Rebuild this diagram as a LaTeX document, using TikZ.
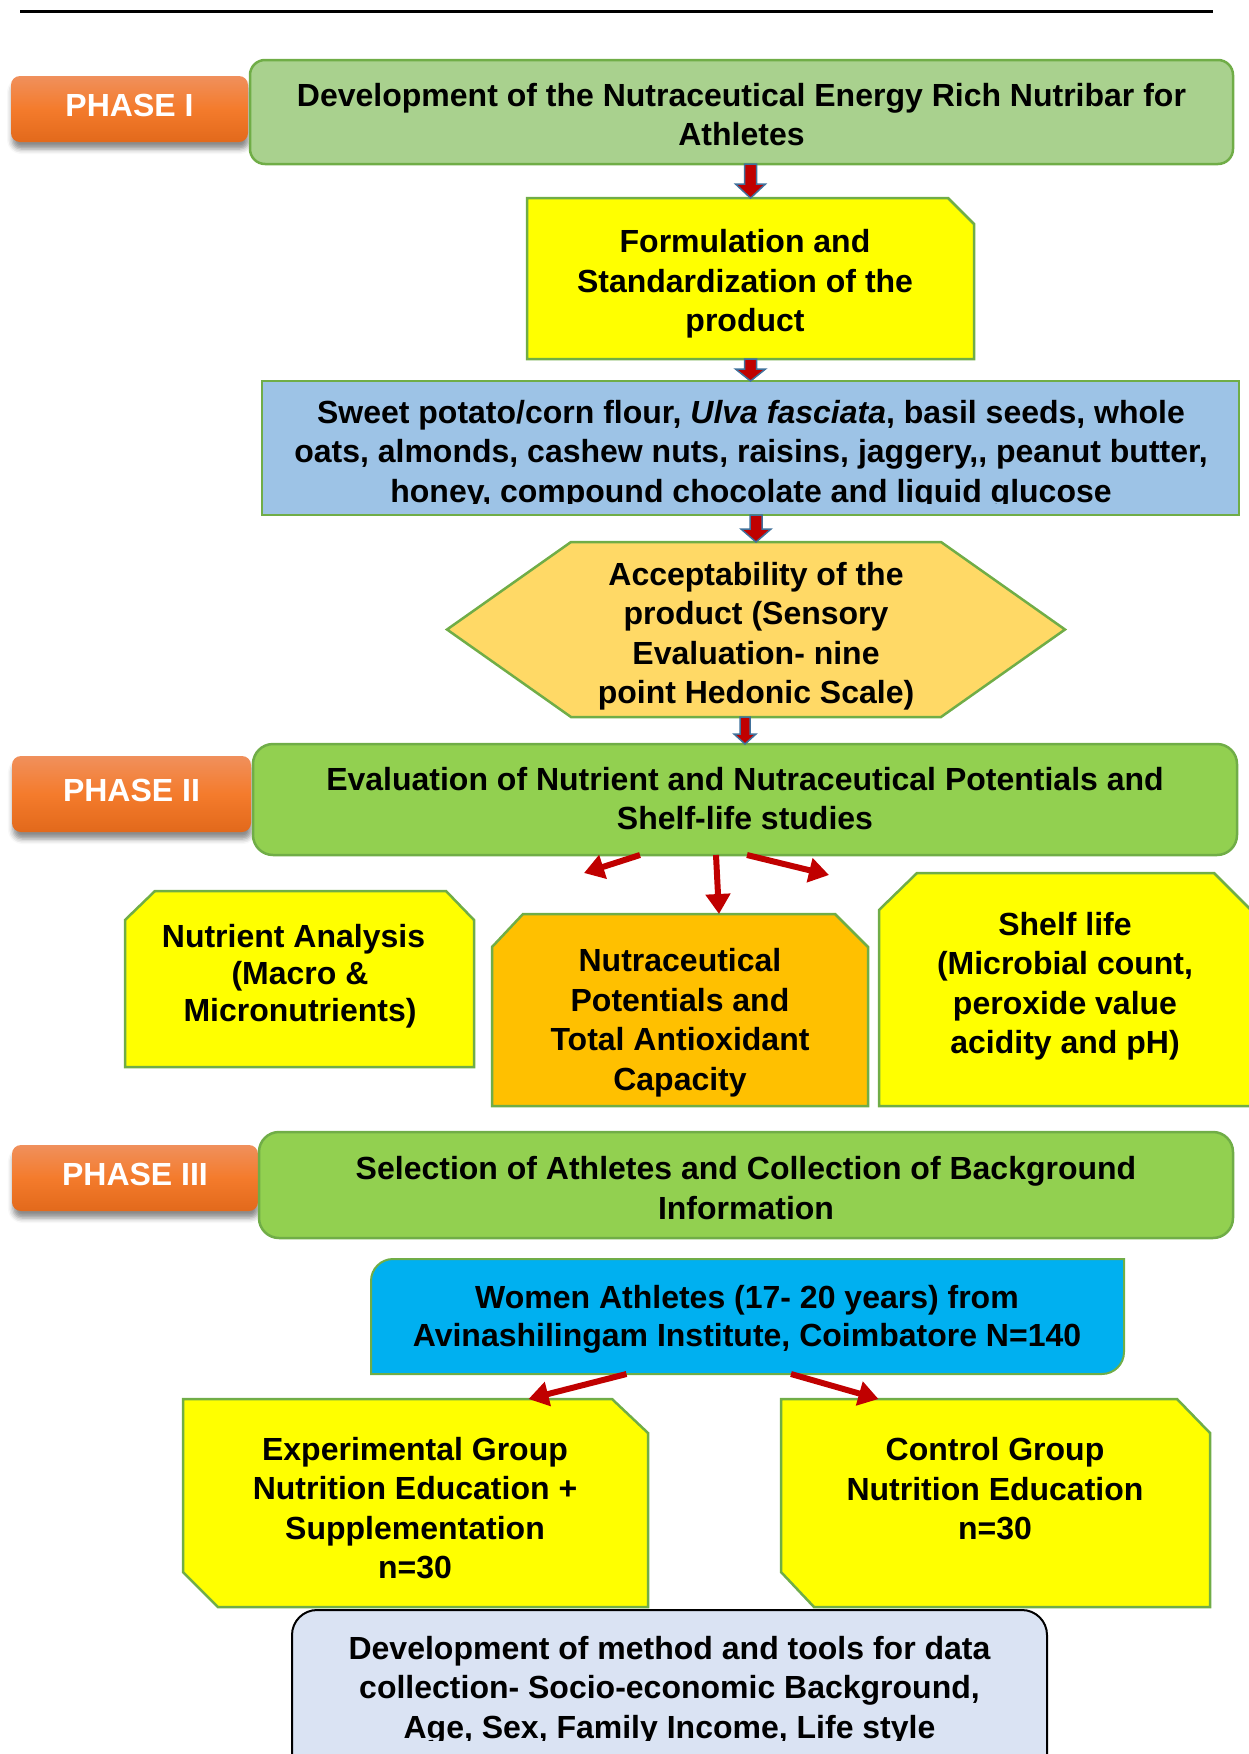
\documentclass[tikz,border=0pt]{standalone}
\usepackage{fontspec}
\setmainfont{Liberation Sans}
\usetikzlibrary{arrows.meta,calc,backgrounds,shadows.blur}

\definecolor{grnlight}{HTML}{A9D18E}
\definecolor{grn}{HTML}{92D050}
\definecolor{grnborder}{HTML}{70AD47}
\definecolor{yel}{HTML}{FFFF00}
\definecolor{orn}{HTML}{FFC000}
\definecolor{lblue}{HTML}{9DC3E6}
\definecolor{hexfill}{HTML}{FFD966}
\definecolor{cyanbox}{HTML}{00B0F0}
\definecolor{greyblue}{HTML}{DAE3F3}
\definecolor{arrred}{HTML}{C00000}
\definecolor{arrblue}{HTML}{41719C}
\definecolor{phtop}{HTML}{F0905C}
\definecolor{phmid}{HTML}{F47B2C}
\definecolor{phbot}{HTML}{E2691B}

\newcommand{\blkarrow}[5]{\path[blockarr] let \p1=(#1), \p2=(#2) in
  (\x1-#3,\y1) -- (\x1+#3,\y1) -- (\x1+#3,\y2+#5) -- (\x1+#4,\y2+#5) -- (\x1,\y2)
  -- (\x1-#4,\y2+#5) -- (\x1-#3,\y2+#5) -- cycle;}

\begin{document}
\begin{tikzpicture}[x=1pt,y=-1pt,
  nbase/.style={inner sep=0pt, outer sep=0pt},
  txt/.style={font=\fontsize{32}{39.5}\selectfont\bfseries, align=center, inner sep=0pt, text=black},
  txtb/.style={font=\fontsize{32}{37}\selectfont\bfseries, align=center, inner sep=0pt, text=black},
  txtc/.style={font=\fontsize{32}{38}\selectfont\bfseries, align=center, inner sep=0pt, text=black},
  greenbox/.style={nbase, fill=grn, draw=grnborder, line width=2.5pt, rounded corners=20pt},
  phase/.style={nbase, rounded corners=9pt, top color=phtop, bottom color=phbot, middle color=phmid,
     blur shadow={shadow xshift=1pt, shadow yshift=-7pt, shadow blur radius=5pt, shadow opacity=45},
     text=white, font=\fontsize{32}{38}\selectfont\bfseries, text depth=8pt},
  snipbox/.style={draw=grnborder, line width=2.5pt},
  blockarr/.style={fill=arrred, draw=arrblue, line width=1.5pt, line join=miter},
  redarr/.style={draw=arrred, line width=6pt, -{Triangle[length=20pt,width=24pt]}}
]
\useasboundingbox (0,0) rectangle (1249,1754);
\clip (0,0) rectangle (1249,1754);

% top rule
\draw[line width=3pt] (20,11) -- (1213,11);

% phase labels
\node[phase, minimum width=237pt, minimum height=66pt] (p1) at (129.5,109) {PHASE I};
\node[phase, minimum width=239pt, minimum height=76pt] (p2) at (131.5,794) {PHASE II};
\node[phase, minimum width=246pt, minimum height=66pt] (p3) at (135,1178) {PHASE III};

% boxes
\node[nbase, fill=grnlight, draw=grnborder, line width=2.5pt, rounded corners=15pt,
      minimum width=983pt, minimum height=104pt] (b1) at (741.5,112) {};
\node[nbase, minimum width=447pt, minimum height=161pt] (b2) at (750.5,278.5) {};
\node[nbase, fill=lblue, draw=grnborder, line width=2.5pt,
      minimum width=977pt, minimum height=134pt] (b3) at (750.5,448) {};
\node[nbase, minimum width=618pt, minimum height=175pt] (hex) at (756,629.5) {};
\node[greenbox, minimum width=984pt, minimum height=111pt] (b4) at (745,799.5) {};
\node[nbase, minimum width=349pt, minimum height=176pt] (b5) at (299.5,979) {};
\node[nbase, minimum width=376pt, minimum height=192pt] (b6) at (680,1010) {};
\node[nbase, minimum width=372pt, minimum height=233pt] (b7) at (1065,989.5) {};
\node[greenbox, minimum width=974pt, minimum height=106pt] (b8) at (746,1185) {};
\node[nbase, minimum width=753pt, minimum height=115pt] (b9) at (747.5,1316.5) {};
\node[nbase, minimum width=465pt, minimum height=208pt] (b10) at (415.5,1503) {};
\node[nbase, minimum width=429pt, minimum height=208pt] (b11) at (995.5,1503) {};
\node[nbase, fill=greyblue, draw=black, line width=2pt, rounded corners=25pt,
      minimum width=755pt, minimum height=190pt] (b12) at (669.5,1705) {};

% shaped outlines
\begin{pgfonlayer}{background}
\path[snipbox, fill=yel] (b2.south west) -- (b2.north west) -- ([xshift=-26pt]b2.north east)
   -- ([yshift=-26pt]b2.north east) -- (b2.south east) -- cycle;
\path[snipbox, fill=hexfill] (hex.west) -- ([xshift=124pt]hex.north west) -- ([xshift=-124pt]hex.north east)
   -- (hex.east) -- ([xshift=-124pt]hex.south east) -- ([xshift=124pt]hex.south west) -- cycle;
\path[snipbox, fill=yel] (b5.south west) -- ([yshift=-29pt]b5.north west) -- ([xshift=30pt]b5.north west)
   -- ([xshift=-28pt]b5.north east) -- ([yshift=-29pt]b5.north east) -- (b5.south east) -- cycle;
\path[snipbox, fill=orn] (b6.south west) -- ([yshift=-33pt]b6.north west) -- ([xshift=31pt]b6.north west)
   -- ([xshift=-33pt]b6.north east) -- ([yshift=-33pt]b6.north east) -- (b6.south east) -- cycle;
\path[snipbox, fill=yel] (b7.south west) -- ([yshift=-37pt]b7.north west) -- ([xshift=38pt]b7.north west)
   -- ([xshift=-37pt]b7.north east) -- ([yshift=-37pt]b7.north east) -- (b7.south east) -- cycle;
\path[snipbox, line width=2pt, fill=cyanbox] let \p1=(b9.north west), \p2=(b9.south east) in
   (\x1,\y2) -- (\x1,\y1-22pt) arc[start angle=180, end angle=90, radius=22pt]
   -- (\x2,\y1) -- (\x2,\y2+22pt) arc[start angle=0, end angle=-90, radius=22pt] -- cycle;
\path[snipbox, fill=yel] (b10.north west) -- ([xshift=-36pt]b10.north east) -- ([yshift=-34pt]b10.north east)
   -- (b10.south east) -- ([xshift=35pt]b10.south west) -- ([yshift=35pt]b10.south west) -- cycle;
\path[snipbox, fill=yel] (b11.north west) -- ([xshift=-33pt]b11.north east) -- ([yshift=-34pt]b11.north east)
   -- (b11.south east) -- ([xshift=33pt]b11.south west) -- ([yshift=35pt]b11.south west) -- cycle;
\end{pgfonlayer}

% texts
\node[txt] (t1) at (741.5,114.5) {Development of the Nutraceutical Energy Rich Nutribar for\\Athletes};
\node[txt] (t2) at (745,284) {Formulation and\\Standardization of the\\product};
\begin{scope}
\clip (262,381) rectangle (1239,503);
\node[txt] (t3) at (751,454.5) {Sweet potato/corn flour, \textit{Ulva fasciata}, basil seeds, whole\\oats, almonds, cashew nuts, raisins, jaggery,\kern0pt, peanut butter,\\honey, compound chocolate and liquid glucose};
\end{scope}
\node[txt] (t4) at (756,636) {Acceptability of the\\product (Sensory\\Evaluation- nine\\point Hedonic Scale)};
\node[txt] (t5) at (745,798.5) {Evaluation of Nutrient and Nutraceutical Potentials and\\Shelf-life studies};
\node[txtb] (t6) at (300,976.5) {Nutrient Analysis\hspace*{13pt}\\(Macro \&\\Micronutrients)};
\node[txt] (t7) at (680,1022.5) {Nutraceutical\\Potentials and\\Total Antioxidant\\Capacity};
\node[txt] (t8) at (1065,986) {Shelf life\\(Microbial count,\\peroxide value\\acidity and pH)};
\node[txt] (t9) at (746,1188) {Selection of Athletes and Collection of Background\\Information};
\node[txtc] (t10) at (747,1319.5) {Women Athletes (17- 20 years) from\\Avinashilingam Institute, Coimbatore N=140};
\node[txt] (t11) at (415,1508) {Experimental Group\\Nutrition Education +\\Supplementation\\n=30};
\node[txt] (t12) at (995,1489) {Control Group\\Nutrition Education\\n=30};
\begin{scope}
\clip (292,1610) rectangle (1047,1740);
\node[txt] (t13) at (669.5,1690.5) {Development of method and tools for data\\collection- Socio-economic Background,\\Age, Sex, Family Income, Life style};
\end{scope}

% block arrows
\blkarrow{b2.north |- b1.south}{b2.north}{6pt}{15pt}{14pt}
\blkarrow{b2.south}{b3.north}{6pt}{15pt}{12pt}
\blkarrow{hex.north |- b3.south}{hex.north}{6pt}{15pt}{13pt}
\blkarrow{b4.north |- hex.south}{b4.north}{5pt}{11pt}{10pt}

% red arrows
\coordinate (r1) at (584,873);
\coordinate (r3) at (829,875);
\draw[redarr] ([xshift=-105pt]b4.south) -- (r1);
\draw[redarr] ([xshift=-29pt]b4.south) -- ([xshift=39pt]b6.north);
\draw[redarr] ([xshift=2pt]b4.south) -- (r3);
\draw[redarr] ([xshift=-121pt]b9.south) -- ([xshift=113pt]b10.north);
\draw[redarr] ([xshift=43.5pt]b9.south) -- ([xshift=-117pt]b11.north);
\end{tikzpicture}
\end{document}
